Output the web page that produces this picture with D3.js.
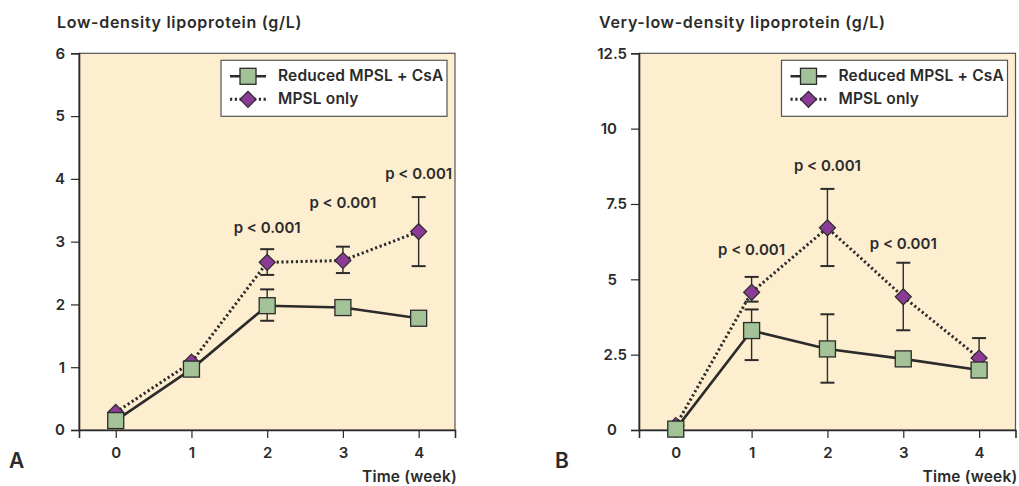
<!DOCTYPE html>
<html>
<head>
<meta charset="utf-8">
<script src="https://cdn.jsdelivr.net/npm/d3@7"></script>
<style>
  html, body { margin: 0; padding: 0; background: #ffffff; }
  svg { display: block; font-family: Inter, "Liberation Sans", Arial, sans-serif; font-weight: 600; }
</style>
</head>
<body>
<svg id="chart" width="1019" height="486"></svg>
<script>
// Time points (weeks)
const weeks = [0, 1, 2, 3, 4];
const seriesNames = ["Reduced MPSL + CsA", "MPSL only"];

// Panel A: low-density lipoprotein (g/L)
const ldlCombo      = [0.15, 0.97, 1.98, 1.95, 1.78];
const ldlComboHigh  = [0.20, 1.02, 2.24, 2.00, 1.83];
const ldlComboLow   = [0.10, 0.92, 1.74, 1.90, 1.73];
const ldlMpsl       = [0.28, 1.08, 2.67, 2.70, 3.16];
const ldlMpslHigh   = [0.30, 1.10, 2.88, 2.92, 3.71];
const ldlMpslLow    = [0.26, 1.06, 2.47, 2.50, 2.61];
const ldlTicks      = [0, 1, 2, 3, 4, 5, 6];
const ldlPWeeks     = [2, 3, 4];
const ldlPLabelY    = [3.13, 3.53, 4.0];

// Panel B: very-low-density lipoprotein (g/L)
const vldlCombo     = [0.03, 3.30, 2.69, 2.36, 1.99];
const vldlComboHigh = [0.05, 4.00, 3.84, 2.45, 2.05];
const vldlComboLow  = [0.01, 2.32, 1.57, 2.27, 1.93];
const vldlMpsl      = [0.15, 4.57, 6.71, 4.42, 2.39];
const vldlMpslHigh  = [0.20, 5.08, 8.00, 5.55, 3.05];
const vldlMpslLow   = [0.10, 4.26, 5.44, 3.31, 1.90];
const vldlTicks     = [0, 2.5, 5, 7.5, 10, 12.5];
const vldlPWeeks    = [1, 2, 3];
const vldlPLabelY   = [5.8, 8.6, 6.0];

const pText = "p < 0.001";

const COLORS = {
  plotBg: "#fdeed0",
  ink: "#2b2b2b",
  frame: "#555555",
  square: "#a3c298",
  diamond: "#8a3b96"
};

const svg = d3.select("#chart");

function styleText(sel, size, spacing) {
  return sel.attr("font-size", size)
    .attr("font-weight", 600)
    .attr("font-family", "Inter, 'Liberation Sans', Arial, sans-serif")
    .attr("letter-spacing", spacing || 0)
    .attr("fill", COLORS.ink);
}

function drawPanel(opt) {
  const g = svg.append("g");
  const x = d3.scaleLinear().domain([-0.485, 4.48]).range([opt.left, opt.right]);
  const y = d3.scaleLinear().domain([0, opt.yMax]).range([opt.bottom, opt.top]);

  // plot background and frame
  g.append("rect")
    .attr("x", opt.left).attr("y", opt.top)
    .attr("width", opt.right - opt.left).attr("height", opt.bottom - opt.top)
    .attr("fill", COLORS.plotBg)
    .attr("stroke", COLORS.frame).attr("stroke-width", 1.2);

  // y axis
  const yAxis = g.append("g")
    .attr("transform", `translate(${opt.left},0)`)
    .call(d3.axisLeft(y).tickValues(opt.yTicks).tickSize(8).tickPadding(opt.yPad)
      .tickFormat(d => String(d)));
  yAxis.select(".domain").attr("stroke", COLORS.ink).attr("stroke-width", 1.6);
  yAxis.selectAll(".tick line").attr("stroke", COLORS.ink).attr("stroke-width", 1.2);
  styleText(yAxis.selectAll(".tick text"), 15)
    .attr("dx", d => opt.wholeShift && Number.isInteger(d) ? opt.wholeShift : 0);

  // x axis
  const xAxis = g.append("g")
    .attr("transform", `translate(0,${opt.bottom})`)
    .call(d3.axisBottom(x).tickValues(weeks).tickSize(8).tickPadding(9)
      .tickFormat(d3.format("d")));
  xAxis.select(".domain").attr("stroke", COLORS.ink).attr("stroke-width", 1.6);
  xAxis.selectAll(".tick line").attr("stroke", COLORS.ink).attr("stroke-width", 1.2);
  styleText(xAxis.selectAll(".tick text"), 15);

  // titles and panel letter
  styleText(g.append("text").attr("x", opt.titleX).attr("y", 28), 16, 0.7)
    .text(opt.title);
  styleText(g.append("text").attr("x", opt.right + 2).attr("y", 482)
    .attr("text-anchor", "end"), 15.5, 0.2)
    .text("Time (week)");
  styleText(g.append("text").attr("x", opt.letterX).attr("y", 468), 21)
    .text(opt.letter);

  const capHalf = 7;
  function errorBars(hi, lo) {
    const eb = g.append("g").attr("stroke", COLORS.ink).attr("stroke-width", 1.4).attr("fill", "none");
    weeks.forEach((w, i) => {
      const cx = x(w);
      eb.append("line").attr("x1", cx).attr("x2", cx).attr("y1", y(hi[i])).attr("y2", y(lo[i]));
      eb.append("line").attr("x1", cx - capHalf).attr("x2", cx + capHalf).attr("y1", y(hi[i])).attr("y2", y(hi[i])).attr("stroke-width", 2);
      eb.append("line").attr("x1", cx - capHalf).attr("x2", cx + capHalf).attr("y1", y(lo[i])).attr("y2", y(lo[i])).attr("stroke-width", 2);
    });
  }

  const line = d3.line().x((d, i) => x(weeks[i])).y(d => y(d));

  // MPSL only: dotted line, purple diamonds
  errorBars(opt.mpslHigh, opt.mpslLow);
  g.append("path").datum(opt.mpsl).attr("d", line)
    .attr("fill", "none").attr("stroke", COLORS.ink).attr("stroke-width", 3)
    .attr("stroke-dasharray", "2.2 2.6");
  const diamond = d3.symbol().type(d3.symbolSquare).size(128);
  g.selectAll(".dia").data(opt.mpsl).join("path")
    .attr("d", diamond)
    .attr("transform", (d, i) => `translate(${x(weeks[i])},${y(d)}) rotate(45)`)
    .attr("fill", COLORS.diamond).attr("stroke", COLORS.ink).attr("stroke-width", 1.2);

  // Reduced MPSL + CsA: solid line, green squares
  errorBars(opt.comboHigh, opt.comboLow);
  g.append("path").datum(opt.combo).attr("d", line)
    .attr("fill", "none").attr("stroke", COLORS.ink).attr("stroke-width", 2.6);
  g.selectAll(".sq").data(opt.combo).join("rect")
    .attr("x", (d, i) => x(weeks[i]) - 8).attr("y", d => y(d) - 8)
    .attr("width", 16).attr("height", 16)
    .attr("fill", COLORS.square).attr("stroke", COLORS.ink).attr("stroke-width", 1.3);

  // significance labels
  opt.pWeeks.forEach((w, i) => {
    styleText(g.append("text").attr("x", x(w)).attr("y", y(opt.pY[i]))
      .attr("text-anchor", "middle"), 15)
      .text(pText);
  });

  // legend
  const lg = g.append("g").attr("transform", `translate(${opt.right - 234},${opt.top + 7})`);
  lg.append("rect").attr("x", 0).attr("y", 0).attr("width", 226).attr("height", 56)
    .attr("fill", "#ffffff").attr("stroke", COLORS.frame).attr("stroke-width", 1.2);
  lg.append("line").attr("x1", 9).attr("x2", 45).attr("y1", 16).attr("y2", 16)
    .attr("stroke", COLORS.ink).attr("stroke-width", 2.6);
  lg.append("rect").attr("x", 19).attr("y", 8).attr("width", 16).attr("height", 16)
    .attr("fill", COLORS.square).attr("stroke", COLORS.ink).attr("stroke-width", 1.3);
  styleText(lg.append("text").attr("x", 57).attr("y", 21), 15.5, 0.15)
    .text(seriesNames[0]);
  lg.append("line").attr("x1", 9).attr("x2", 45).attr("y1", 39).attr("y2", 39)
    .attr("stroke", COLORS.ink).attr("stroke-width", 3).attr("stroke-dasharray", "2.2 2.6");
  lg.append("path").attr("d", diamond)
    .attr("transform", "translate(27,39) rotate(45)")
    .attr("fill", COLORS.diamond).attr("stroke", COLORS.ink).attr("stroke-width", 1.2);
  styleText(lg.append("text").attr("x", 57).attr("y", 44), 15.5, 0.15)
    .text(seriesNames[1]);
}

drawPanel({
  left: 79, right: 455, top: 53.3, bottom: 430,
  yMax: 6, yTicks: ldlTicks, yPad: 6, wholeShift: 0,
  title: "Low-density lipoprotein (g/L)", titleX: 57,
  letter: "A", letterX: 9,
  combo: ldlCombo, comboHigh: ldlComboHigh, comboLow: ldlComboLow,
  mpsl: ldlMpsl, mpslHigh: ldlMpslHigh, mpslLow: ldlMpslLow,
  pWeeks: ldlPWeeks, pY: ldlPLabelY
});

drawPanel({
  left: 639, right: 1015.5, top: 53.3, bottom: 430,
  yMax: 12.5, yTicks: vldlTicks, yPad: 4, wholeShift: -10,
  title: "Very-low-density lipoprotein (g/L)", titleX: 599,
  letter: "B", letterX: 555,
  combo: vldlCombo, comboHigh: vldlComboHigh, comboLow: vldlComboLow,
  mpsl: vldlMpsl, mpslHigh: vldlMpslHigh, mpslLow: vldlMpslLow,
  pWeeks: vldlPWeeks, pY: vldlPLabelY
});
</script>
</body>
</html>
